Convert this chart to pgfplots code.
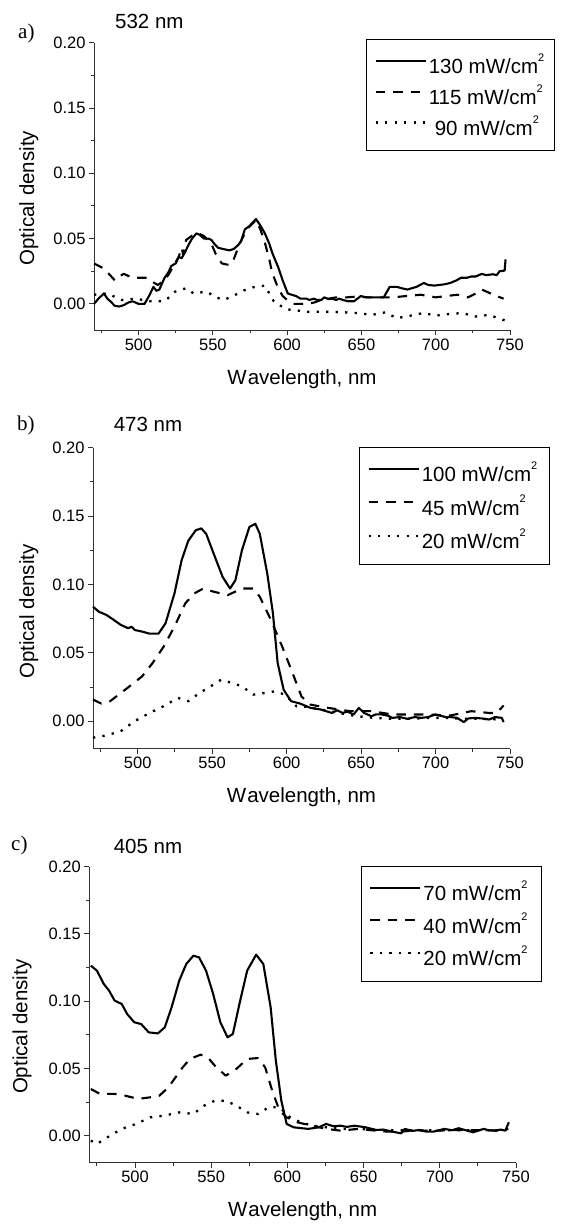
\documentclass[border=0pt]{standalone}
\usepackage{fontspec}
\setmainfont{Liberation Sans}
\newfontfamily\seriffont{Liberation Serif}
\usepackage{pgfplots}
\pgfplotsset{compat=1.18}

\newcommand{\sq}{\raisebox{0.6em}{\fontsize{11}{11}\selectfont 2}}

\pgfplotsset{
  odpanel/.style={
    scale only axis,
    axis x line*=bottom, axis y line*=left,
    xmin=470, xmax=750, ymin=-0.02, ymax=0.20,
    xtick={500,550,...,750},
    minor xtick={475,525,...,725},
    ytick={0,0.05,0.10,0.15,0.20},
    minor ytick={0.025,0.075,0.125,0.175},
    tick align=outside,
    major tick length=5pt, minor tick length=3pt,
    tick style={black!80, line width=0.9pt},
    axis line style={black!80, line width=1pt},
    /pgf/number format/assume math mode=true,
    yticklabel style={/pgf/number format/.cd, fixed, fixed zerofill, precision=2},
    ticklabel style={font=\fontsize{16.5}{19}\selectfont},
    label style={font=\fontsize{20.5}{23}\selectfont},
    xlabel={W\kern1pt avelength, nm},
    ylabel={Optical density},
    xlabel style={at={(axis description cs:0.5,0)}, anchor=base, yshift=-54pt},
    clip=false,
    legend cell align=left,
    legend image code/.code={\draw[##1] (0pt,0.35em) -- (50pt,0.35em);},
    legend style={anchor=north west, draw=black, line width=0.9pt,
      font=\fontsize{20.5}{23}\selectfont,
      nodes={inner ysep=1pt, inner xsep=2pt},
      inner xsep=8pt},
  },
  sol/.style={black, line width=2.1pt, line join=round},
  dsh/.style={black, line width=2.1pt, line join=round, dash pattern=on 9.5pt off 8pt},
  dts/.style={black, line width=2.3pt, line join=round, dash pattern=on 2.3pt off 7.2pt},
}

\begin{document}
\begin{tikzpicture}
\path[use as bounding box] (0,0) rectangle (560pt,-1225pt);

% ---------------- a) 532 nm
\begin{axis}[odpanel, at={(94pt,-42.7pt)}, anchor=north west,
  width=416pt, height=287.3pt,
  ylabel style={at={(axis description cs:0,0.459)}, anchor=base, yshift=60pt},
  legend style={at={(0.654,1.013)}, row sep=7.5pt, inner ysep=13pt}]
\addplot[sol] table {
470 0.000
473 0.004
476.7 0.008
479 0.004
481 0.002
484 -0.0015
487 -0.002
490 -0.001
493 0.001
496 0.002
500 0.000
504 0.000
507 0.006
510 0.013
512 0.010
514 0.011
517.5 0.020
520 0.024
522 0.029
525 0.031
527 0.036
529 0.035
531 0.039
534 0.046
536 0.050
539 0.054
541 0.053
544 0.050
547 0.050
549 0.049
551 0.046
553.5 0.043
557 0.042
561 0.041
564 0.042
567 0.045
569 0.048
571.5 0.057
575 0.060
579 0.065
582 0.060
585 0.054
588 0.046
590 0.039
594 0.028
597 0.018
600.4 0.008
603 0.007
606 0.006
609 0.004
613 0.004
615 0.003
618 0.004
620 0.003
623 0.003
625 0.005
628 0.0036
630 0.004
633 0.003
635 0.004
637.6 0.003
641 0.002
645 0.002
649.6 0.006
653 0.005
657 0.005
660 0.005
665 0.005
669 0.013
674 0.013
677 0.012
681 0.011
684 0.012
687 0.013
692 0.016
695 0.0145
699 0.014
702.5 0.0145
706 0.015
709.7 0.016
714 0.018
717 0.020
721 0.020
724 0.021
727 0.021
731 0.023
734 0.022
738.5 0.0227
741 0.022
743 0.025
746.4 0.0255
747 0.034
};
\addplot[dsh] table {
470 0.031
476.7 0.027
480 0.023
484 0.018
487 0.021
490 0.023
496 0.020
505.5 0.020
509 0.017
513 0.0145
516 0.017
520 0.022
524 0.030
527 0.036
529 0.043
530 0.038
532 0.049
537 0.053
540 0.054
544 0.052
549 0.046
552 0.038
556 0.031
560 0.030
563 0.031
566 0.040
568 0.046
572.8 0.057
579 0.064
582 0.057
585 0.047
588 0.034
590 0.0235
594 0.012
597 0.006
600 0.003
604 0.000
609 0.000
613.6 0.000
618 0.001
623 0.003
628 0.004
633 0.005
640 0.005
647 0.0056
655 0.005
663 0.005
671 0.005
680 0.006
690 0.007
700 0.005
707 0.006
714.5 0.007
721.7 0.005
727 0.008
731 0.011
735 0.009
738.5 0.007
745.7 0.004
};
\addplot[dts] table {
470 0.007
479 0.008
488.7 0.003
498 0.004
508 0.002
517.5 0.002
524.7 0.0094
532 0.012
537 0.008
546 0.0094
551 0.0056
557 0.003
563 0.0056
570 0.010
577.6 0.0128
585 0.014
591 0.002
599 -0.004
613.6 -0.006
623 -0.006
637.6 -0.0064
647 -0.007
657 -0.0084
666.4 -0.0064
673.6 -0.011
683 -0.009
691.6 -0.007
700 -0.009
709.7 -0.0077
718 -0.007
726.5 -0.0097
736 -0.0084
742 -0.011
747 -0.0128
};
\legend{\makebox[116pt][l]{130 mW/cm\sq},
        \makebox[116pt][l]{115 mW/cm\sq},
        \makebox[116pt][l]{\hspace{6pt}90 mW/cm\sq}}
\end{axis}

% ---------------- b) 473 nm
\begin{axis}[odpanel, at={(93pt,-447.7pt)}, anchor=north west,
  width=417pt, height=300.8pt,
  ylabel style={at={(axis description cs:0,0.455)}, anchor=base, yshift=59pt},
  legend style={at={(0.638,1.002)}, row sep=10pt, inner ysep=13pt}]
\addplot[sol] table {
470 0.0837
474 0.080
479 0.0777
484 0.074
488.7 0.0704
493.5 0.068
496 0.069
498 0.0667
503 0.0655
508 0.064
514 0.064
518.7 0.0716
524.7 0.0934
529.5 0.1177
534 0.132
539 0.1396
542.7 0.141
546 0.137
551 0.1226
557 0.1056
562 0.097
565.6 0.103
570 0.125
575 0.142
579 0.1444
582 0.137
587 0.108
590.8 0.079
594 0.0425
598 0.023
603 0.0146
609 0.0129
616 0.0097
623 0.0085
630.4 0.006
634 0.008
637.6 0.006
641 0.007
645 0.0049
648.5 0.0097
652 0.006
657 0.0036
660 0.005
664 0.0049
668 0.004
671 0.0024
676 0.003
681 0.0017
686 0.003
690.4 0.0024
695 0.003
700 0.0049
703 0.004
707 0.003
710 0.003
714.5 0.0024
719 -0.0007
722 0.002
726.5 0.0024
731 0.002
736 0.0012
740 0.003
744.5 0.0024
745.7 -0.0007
};
\addplot[dsh] table {
470 0.0158
475.5 0.0129
481.5 0.0146
488.7 0.0206
496 0.0267
503 0.0328
510 0.0425
517.5 0.0546
524.7 0.0692
532 0.0862
538 0.0934
544 0.097
551 0.0947
560.5 0.0922
570 0.097
577.6 0.097
582 0.091
589.5 0.074
597 0.0546
604 0.0352
610 0.018
616 0.0121
628 0.0097
642.5 0.0073
657 0.0073
671 0.0049
685.5 0.0049
695 0.0049
709.7 0.0041
724 0.0073
736 0.006
741 0.006
745.7 0.0114
};
\addplot[dts] table {
470 -0.0121
479 -0.0104
488.7 -0.0073
498 0.000
508 0.006
517.5 0.011
527 0.017
534 0.0146
541.5 0.0206
549 0.0255
556 0.0303
563 0.028
570 0.0255
577.6 0.0194
585 0.0206
592 0.0218
599 0.0194
606.5 0.011
613.6 0.0104
623 0.0085
635 0.006
647 0.0036
659 0.0024
671 0.0017
683 0.0017
695 0.0024
707 0.0024
719 0.0017
731 0.0017
743 0.0012
};
\legend{\makebox[118pt][l]{100 mW/cm\sq},
        \makebox[118pt][l]{45 mW/cm\sq},
        \makebox[118pt][l]{20 mW/cm\sq}}
\end{axis}

% ---------------- c) 405 nm
\begin{axis}[odpanel, at={(89.3pt,-866.7pt)}, anchor=north west,
  width=426.7pt, height=295.8pt,
  ylabel style={at={(axis description cs:0,0.459)}, anchor=base, yshift=62pt},
  legend style={at={(0.636,1.002)}, row sep=9pt, inner ysep=13pt}]
\addplot[sol] table {
471 0.1264
475 0.1227
479.5 0.1128
483 0.1078
486.6 0.1004
491.3 0.0979
494.8 0.0905
499.5 0.0843
504 0.083
509 0.0768
515 0.076
519.5 0.0805
524 0.0954
529 0.1152
533.6 0.1276
538.3 0.1338
542 0.1326
546.6 0.1227
551.3 0.1053
556 0.0843
560.7 0.0731
564.2 0.0756
569 0.1004
573.6 0.1227
579.5 0.1346
584.2 0.1276
589 0.0954
592.4 0.0558
596 0.026
599.5 0.0087
604 0.0062
613.6 0.005
620.6 0.0062
625.4 0.0087
630 0.007
634.8 0.0074
639 0.0065
644 0.0074
651.2 0.0062
658.3 0.0042
663 0.0045
667.7 0.0032
674.7 0.0017
677 0.005
682 0.0035
686.5 0.0042
691 0.003
696 0.003
703 0.005
708 0.004
712.4 0.0055
717 0.004
721.8 0.0025
728.8 0.005
732 0.004
736 0.0037
740 0.0045
743 0.0037
745.3 0.0099
};
\addplot[dsh] table {
471 0.0347
477 0.031
486.6 0.031
493.6 0.0297
502 0.0273
510 0.0285
516 0.0297
522 0.036
526.6 0.0434
531.3 0.0508
536 0.057
543 0.0602
547.7 0.0582
552.4 0.052
559.5 0.0446
566.5 0.0496
573.6 0.057
580.7 0.0577
585.4 0.0508
590 0.0335
594.8 0.0186
599.5 0.0136
606.5 0.0099
616 0.0074
625.4 0.005
634.8 0.0037
646.5 0.005
655 0.004
665 0.003
675 0.003
685 0.004
695 0.0035
705 0.004
717 0.0042
730 0.004
740.5 0.0037
745 0.005
};
\addplot[dts] table {
471 -0.0037
475 -0.0062
482 -0.0012
491.3 0.005
500.7 0.0087
510 0.0136
519.5 0.0149
529 0.0173
538.3 0.0161
545.4 0.0223
552.4 0.026
559.5 0.026
566.5 0.0223
573.6 0.0173
580.7 0.0161
587.7 0.0211
594.8 0.0211
601.8 0.0136
608.9 0.0099
616 0.0074
625.4 0.0062
634.8 0.005
646.5 0.005
655 0.0045
665 0.004
680 0.004
695 0.004
710 0.004
725 0.004
740 0.004
};
\legend{\makebox[108pt][l]{70 mW/cm\sq},
        \makebox[108pt][l]{40 mW/cm\sq},
        \makebox[108pt][l]{20 mW/cm\sq}}
\end{axis}

% panel letters and titles
\node[anchor=base west, inner sep=0pt, font=\seriffont\fontsize{21}{23}\selectfont] at (18pt,-38.7pt) {a)};
\node[anchor=base west, inner sep=0pt, font=\seriffont\fontsize{21}{23}\selectfont] at (17pt,-430pt) {b)};
\node[anchor=base west, inner sep=0pt, font=\seriffont\fontsize{21}{23}\selectfont] at (11pt,-850pt) {c)};
\node[anchor=base west, inner sep=0pt, font=\fontsize{20.5}{23}\selectfont] at (115pt,-28.3pt) {532 nm};
\node[anchor=base west, inner sep=0pt, font=\fontsize{20.5}{23}\selectfont] at (113.6pt,-431.7pt) {473 nm};
\node[anchor=base west, inner sep=0pt, font=\fontsize{20.5}{23}\selectfont] at (113.6pt,-853.3pt) {405 nm};
\end{tikzpicture}
\end{document}
